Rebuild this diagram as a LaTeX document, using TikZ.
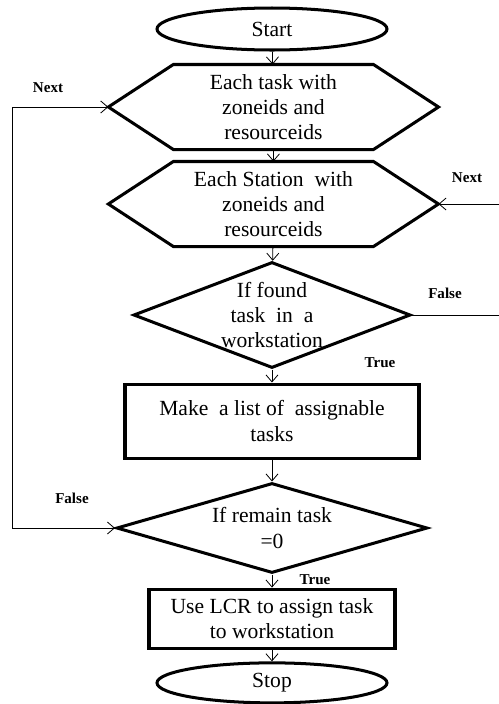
\documentclass[tikz,border=0pt]{standalone}
\usepackage{fontspec}
\setmainfont{Liberation Serif}
\usetikzlibrary{shapes.geometric,arrows.meta}

\begin{document}
\begin{tikzpicture}[
		>={Straight Barb[length=7pt,width=12pt]},
		box/.style={draw, line width=3pt, align=center, inner sep=0pt, font=\fontsize{21.5}{25}\selectfont},
		oval/.style={box, ellipse},
		hexa/.style={box, draw=none, minimum width=6.9cm, minimum height=2.87cm},
		edge/.style={line width=3pt},
		test/.style={box, diamond},
		proc/.style={box, rectangle},
		arr/.style={line width=0.8pt, ->},
		lbl/.style={font=\fontsize{15}{17}\selectfont\bfseries}
	]
	\useasboundingbox (-9.52,0) rectangle (7.945,-24.64);

	% main column
	\node[oval, minimum width=8.05cm, minimum height=1.47cm] (start) at (0,-1.015) {Start};
	\node[hexa] (task) at (0.05,-3.745) {Each task with\\zoneids and\\resourceids};
	\node[hexa] (station) at (0.05,-7.14) {Each Station\ \ with\\zoneids and\\resourceids};
	\node[test, aspect=2.61, minimum width=9.7cm, minimum height=3.71cm] (found) at (0,-11.025)
		{If found\\task\ \ in\ \ a\\workstation};
	\node[proc, minimum width=10.29cm, minimum height=2.59cm] (list) at (0,-14.735)
		{Make\ \ a list of\ \ assignable\\tasks};
	\node[test, aspect=3.46, minimum width=10.885cm, minimum height=3.15cm] (remain) at (0,-18.48)
		{If remain task\\=0};
	\node[proc, minimum width=8.61cm, minimum height=2.065cm] (assign) at (0,-21.65)
		{Use LCR to assign task\\to workstation};
	\node[oval, minimum width=8.05cm, minimum height=1.4cm] (stop) at (0,-23.9) {Stop};

	% hexagon outlines
	\coordinate (task-w) at ([xshift=-2.275cm]task.west);
	\coordinate (task-e) at ([xshift=2.275cm]task.east);
	\coordinate (station-w) at ([xshift=-2.275cm]station.west);
	\coordinate (station-e) at ([xshift=2.275cm]station.east);
	\draw[edge] (task.north west) -- (task.north east) -- (task-e) -- (task.south east)
		-- (task.south west) -- (task-w) -- cycle;
	\draw[edge] (station.north west) -- (station.north east) -- (station-e) -- (station.south east)
		-- (station.south west) -- (station-w) -- cycle;

	\draw[arr] (start) -- (task);
	\draw[arr] (task) -- (station);
	\draw[arr] (station) -- (found);
	\draw[arr] (found) -- (list);
	\draw[arr] (list) -- (remain);
	\draw[arr] (remain) -- (assign);
	\draw[arr] (assign) -- (stop);

	% loops back
	\coordinate (lft) at (-9.1,0);
	\coordinate (rgt) at (8.2,0);
	\draw[arr, <->] (remain.west) -- (remain.west -| lft) |- (task-w);
	\draw[arr] (found.east) -- (found.east -| rgt) |- (station-e);

	% labels
	\node[lbl] (next1) at (-7.84,-3.08) {Next};
	\node[lbl] (next2) at (6.825,-6.23) {Next};
	\node[lbl] (false1) at (6.055,-10.255) {False};
	\node[lbl] (true1) at (3.78,-12.705) {True};
	\node[lbl] (false2) at (-7.0,-17.43) {False};
	\node[lbl] (true2) at (1.505,-20.3) {True};
\end{tikzpicture}
\end{document}
